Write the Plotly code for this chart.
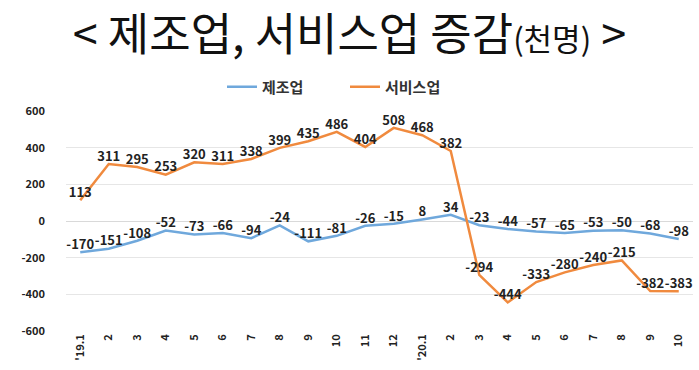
import plotly.graph_objects as go

categories = ["'19.1", "2", "3", "4", "5", "6", "7", "8", "9", "10", "11", "12",
              "'20.1", "2", "3", "4", "5", "6", "7", "8", "9", "10"]
manufacturing = [-170, -151, -108, -52, -73, -66, -94, -24, -111, -81, -26, -15,
                 8, 34, -23, -44, -57, -65, -53, -50, -68, -98]
services = [113, 311, 295, 253, 320, 311, 338, 399, 435, 486, 404, 508,
            468, 382, -294, -444, -333, -280, -240, -215, -382, -383]
y_ticks = [600, 400, 200, 0, -200, -400, -600]

KR = "Noto Sans CJK KR"
x_idx = list(range(len(categories)))

fig = go.Figure()
fig.add_trace(go.Scatter(
    x=x_idx, y=manufacturing, name="제조업", mode="lines+text",
    line=dict(color="#6fa8dc", width=2.5), cliponaxis=False,
    text=[str(v) for v in manufacturing], textposition="top center",
    textfont=dict(family=KR, size=13, color="#222222", weight="bold"),
))
fig.add_trace(go.Scatter(
    x=x_idx, y=services, name="서비스업", mode="lines+text",
    line=dict(color="#f08a3e", width=2.5), cliponaxis=False,
    text=[str(v) for v in services], textposition="top center",
    textfont=dict(family=KR, size=13, color="#222222", weight="bold"),
))

fig.update_layout(
    width=699, height=370,
    margin=dict(l=66, r=6, t=111, b=39),
    paper_bgcolor="white", plot_bgcolor="white",
    showlegend=True,
    title=dict(
        text='< 제조업, 서비스업 증감<span style="font-size:31px">(천명)</span> >',
        x=0.5, xref="container", xanchor="center",
        y=1 - 35 / 370, yref="container", yanchor="middle",
        font=dict(family=KR, size=45, color="#111111"),
    ),
    legend=dict(orientation="h", xref="container", x=222 / 699, xanchor="left",
                yref="container", y=1 - 87 / 370, yanchor="middle",
                entrywidth=78, entrywidthmode="pixels",
                font=dict(family=KR, size=15, color="#333333", weight="bold"),
                itemwidth=30),
)

fig.update_xaxes(
    tickmode="array", tickvals=x_idx, ticktext=categories, tickangle=-90,
    range=[-0.5, 21.5], showgrid=False, zeroline=False, showline=False,
    automargin=False,
    tickfont=dict(family=KR, size=11, color="#222222", weight="bold"),
)
fig.update_yaxes(
    tickmode="array", tickvals=y_ticks, ticktext=[str(v) for v in y_ticks],
    range=[-600, 600], showgrid=True, gridcolor="#e6e6e6", gridwidth=1,
    zeroline=True, zerolinecolor="#d9d9d9", zerolinewidth=1,
    automargin=False,
    tickfont=dict(family=KR, size=11, color="#222222", weight="bold"),
    ticklabelstandoff=20,
)

fig.write_html("out.html", config={"displayModeBar": False},
               post_script="document.body.style.margin='0';document.body.style.overflow='hidden';")
